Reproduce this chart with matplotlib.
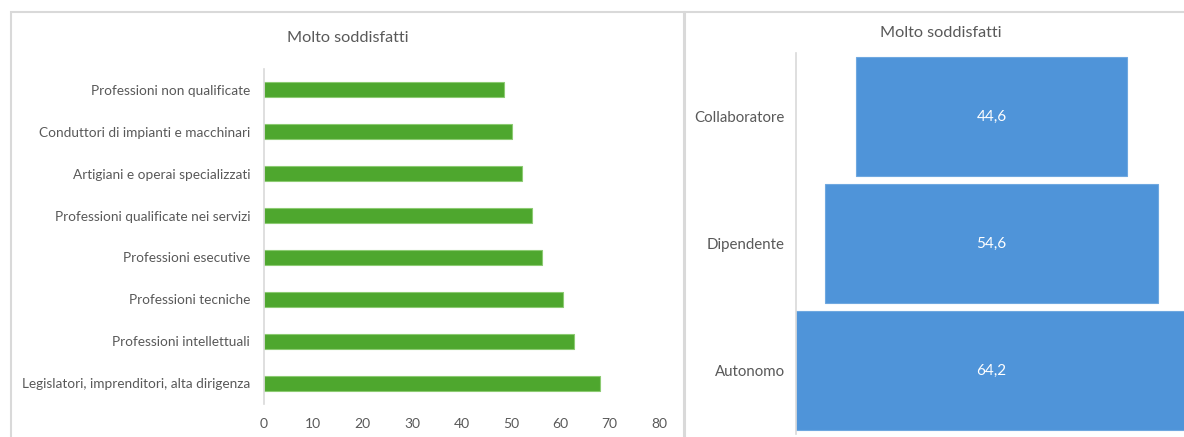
import matplotlib.pyplot as plt
from matplotlib.patches import Rectangle

W, H = 1184, 437

professioni = [
    "Professioni non qualificate",
    "Conduttori di impianti e macchinari",
    "Artigiani e operai specializzati",
    "Professioni qualificate nei servizi",
    "Professioni esecutive",
    "Professioni tecniche",
    "Professioni intellettuali",
    "Legislatori, imprenditori, alta dirigenza",
]
prof_values = [48.7, 50.2, 52.2, 54.3, 56.3, 60.5, 62.7, 68.1]

posizioni = ["Collaboratore", "Dipendente", "Autonomo"]
pos_values = [44.6, 54.6, 64.2]
pos_labels = ["44,6", "54,6", "64,2"]

title = "Molto soddisfatti"
x_ticks = [0, 10, 20, 30, 40, 50, 60, 70, 80]

GREEN = "#4EA72E"
BLUE = "#4F94D9"
TEXT = "#595959"
GRID = "#D9D9D9"

plt.rcParams["font.family"] = ["Lato", "DejaVu Sans"]


def box(x0, y0, x1, y1):
    # pixel box (top-left origin) -> figure fraction [l, b, w, h]
    return [x0 / W, 1 - y1 / H, (x1 - x0) / W, (y1 - y0) / H]


fig = plt.figure(figsize=(W / 100, H / 100), dpi=100)

# panel borders
for x0, x1 in [(11, 684), (685, 1200)]:
    l, b, w, h = box(x0, 12, x1, 460)
    fig.add_artist(Rectangle((l, b), w, h, transform=fig.transFigure,
                             fill=False, edgecolor=GRID, linewidth=1.5))

# left: horizontal bars
ax1 = fig.add_axes(box(264, 69, 659, 404))
ypos = list(range(len(professioni)))
ax1.barh(ypos, prof_values, height=0.36, color=GREEN,
         edgecolor="#8CCB72", linewidth=0.8)
ax1.set_ylim(len(professioni) - 0.5, -0.5)
ax1.set_xlim(0, 80)
ax1.set_yticks(ypos)
ax1.set_yticklabels(professioni)
ax1.set_xticks(x_ticks)
ax1.tick_params(axis="y", length=0, pad=10, labelsize=9.8, labelcolor=TEXT)
ax1.tick_params(axis="x", length=0, pad=10, labelsize=10, labelcolor=TEXT)
for side in ["top", "right", "bottom"]:
    ax1.spines[side].set_visible(False)
ax1.spines["left"].set_color(GRID)
ax1.spines["left"].set_linewidth(1.2)
fig.text(348 / W, 1 - 38 / H, title, ha="center", va="center",
         fontsize=11.7, color=TEXT)

# right: funnel
ax2 = fig.add_axes(box(796, 53, 1187, 434))
rpos = list(range(len(posizioni)))
ax2.barh(rpos, pos_values, left=[-v / 2 for v in pos_values], height=0.94,
         color=BLUE, edgecolor="#6FA8E0", linewidth=0.8)
ax2.set_xlim(-32.1, 32.1)
ax2.set_ylim(len(posizioni) - 0.5, -0.5)
ax2.set_yticks(rpos)
ax2.set_yticklabels(posizioni)
ax2.set_xticks([])
ax2.tick_params(axis="y", length=0, pad=8, labelsize=10.8, labelcolor=TEXT)
for side in ["top", "right", "bottom"]:
    ax2.spines[side].set_visible(False)
ax2.spines["left"].set_color(GRID)
ax2.spines["left"].set_linewidth(1.2)
for y, lab in zip(rpos, pos_labels):
    ax2.text(0, y, lab, ha="center", va="center", color="white", fontsize=11)
fig.text(941 / W, 1 - 33 / H, title, ha="center", va="center",
         fontsize=11.7, color=TEXT)

fig.savefig("out.png", dpi=100, facecolor="white")
